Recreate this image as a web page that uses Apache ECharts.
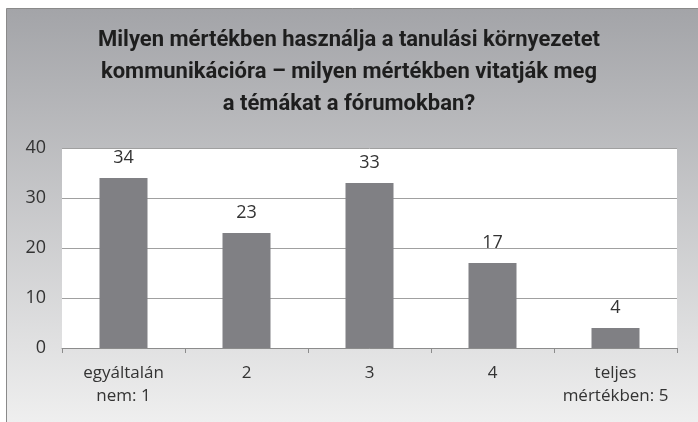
<!DOCTYPE html>
<html>
<head>
<meta charset="utf-8">
<script src="https://cdn.jsdelivr.net/npm/echarts@6/dist/echarts.min.js"></script>
<style>
  html, body { margin: 0; padding: 0; background: #fff; }
  #main { width: 698px; height: 422px; }
</style>
</head>
<body>
<div id="main"></div>
<script>
var titleLines = ['Milyen mértékben használja a tanulási környezetet',
                  'kommunikációra – milyen mértékben vitatják meg',
                  'a témákat a fórumokban?'];
var categories = ['egyáltalán\nnem: 1', '2', '3', '4', 'teljes\nmértékben: 5'];
var values = [34, 23, 33, 17, 4];
var yTicks = [0, 10, 20, 30, 40];

var chart = echarts.init(document.getElementById('main'));
var labelFont = "'Open Sans', sans-serif";

var option = {
    animation: false,
    graphic: [{
        type: 'rect',
        z: -10,
        silent: true,
        shape: { x: 6.5, y: 8.5, width: 700, height: 420 },
        style: {
            fill: new echarts.graphic.LinearGradient(0, 0, 0, 1, [
                { offset: 0, color: '#a3a4a8' },
                { offset: 1, color: '#f0f0f0' }
            ]),
            stroke: '#8a8a8a',
            lineWidth: 1
        }
    }],
    title: {
        text: titleLines.join('\n'),
        left: 'center',
        top: 19,
        textStyle: {
            fontFamily: "Roboto, sans-serif",
            fontWeight: 'bold',
            fontSize: 22,
            lineHeight: 32,
            color: '#1e1e1e'
        }
    },
    grid: {
        left: 62, right: 21, top: 148, bottom: 74,
        show: true,
        backgroundColor: '#ffffff',
        borderWidth: 0
    },
    xAxis: {
        type: 'category',
        data: categories,
        axisLine: { lineStyle: { color: '#8c8c8c' } },
        axisTick: { show: true, length: 5, lineStyle: { color: '#8c8c8c' } },
        axisLabel: {
            color: '#333',
            fontFamily: labelFont,
            fontSize: 17,
            lineHeight: 23,
            margin: 14,
            interval: 0
        }
    },
    yAxis: {
        type: 'value',
        min: yTicks[0],
        max: yTicks[yTicks.length - 1],
        interval: 10,
        axisLine: { show: false },
        axisTick: { show: false },
        splitLine: { lineStyle: { color: '#a0a0a0' } },
        axisLabel: {
            color: '#333',
            fontFamily: labelFont,
            fontSize: 18,
            margin: 16
        }
    },
    series: [{
        type: 'bar',
        data: values,
        barWidth: 48,
        itemStyle: { color: '#808084' },
        label: {
            show: true,
            position: 'top',
            distance: 11,
            color: '#333',
            fontFamily: labelFont,
            fontSize: 18
        }
    }]
};

chart.setOption(option);
</script>
</body>
</html>
